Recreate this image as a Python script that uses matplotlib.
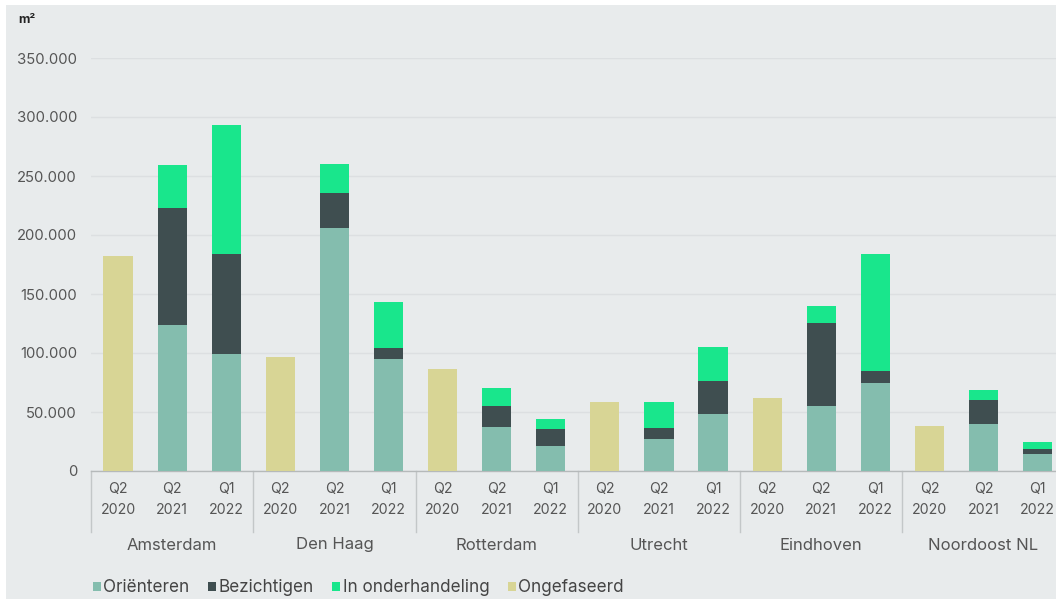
import matplotlib
matplotlib.use("Agg")
import matplotlib.pyplot as plt
import matplotlib.transforms as mtransforms
from matplotlib.patches import Rectangle
from matplotlib.ticker import FuncFormatter
import numpy as np

plt.rcParams["font.family"] = ["Inter", "DejaVu Sans"]

regions = ["Amsterdam", "Den Haag", "Rotterdam", "Utrecht", "Eindhoven", "Noordoost NL"]
periods = ["Q2\n2020", "Q2\n2021", "Q1\n2022"]

# m² per region x period (Q2 2020, Q2 2021, Q1 2022)
orienteren = [0, 124000, 99000, 0, 206000, 95000, 0, 37000, 21500,
              0, 27000, 48000, 0, 55500, 75000, 0, 39500, 14500]
bezichtigen = [0, 98500, 84500, 0, 29500, 9500, 0, 18500, 14000,
               0, 9500, 28000, 0, 70000, 9500, 0, 20500, 4000]
onderhandeling = [0, 37000, 109500, 0, 24500, 39000, 0, 14500, 8500,
                  0, 22000, 29500, 0, 14500, 99500, 0, 9000, 5800]
ongefaseerd = [182000, 0, 0, 96500, 0, 0, 86500, 0, 0,
               58500, 0, 0, 62000, 0, 0, 38500, 0, 0]

series = [("Oriënteren", orienteren, "#84bdae"),
          ("Bezichtigen", bezichtigen, "#3f4e50"),
          ("In onderhandeling", onderhandeling, "#19e68c"),
          ("Ongefaseerd", ongefaseerd, "#d8d595")]

BG = "#e8ebec"
W, H = 1056, 599
fig = plt.figure(figsize=(W / 100, H / 100), dpi=100, facecolor="white")
fig.patches.append(Rectangle((6 / W, 0), 1, 1 - 5 / H, transform=fig.transFigure,
                             facecolor=BG, edgecolor="none", zorder=-1))

# axes runs a little past the right edge of the figure
left, right_px = 91, 1064.6
ax = fig.add_axes([left / W, 128 / H, (right_px - left) / W, 413 / H])
ax.set_facecolor(BG)

x = np.arange(len(orienteren))
bottom = np.zeros(len(x))
for name, vals, col in series:
    ax.bar(x, vals, width=0.54, bottom=bottom, color=col, label=name, zorder=3)
    bottom += np.array(vals)

ax.set_xlim(-0.5, len(x) - 0.5)
ax.set_ylim(0, 350000)
ax.set_yticks(np.arange(0, 350001, 50000))
ax.yaxis.set_major_formatter(FuncFormatter(lambda v, p: f"{int(v):,}".replace(",", ".")))
ax.grid(axis="y", color="#dcdfe1", linewidth=1, zorder=0)
ax.tick_params(axis="y", length=0, pad=10, labelsize=10.7, labelcolor="#555555")

ax.set_xticks(x, periods * len(regions))
ax.tick_params(axis="x", length=0, pad=8, labelsize=10.2, labelcolor="#555555")
for lbl in ax.get_xticklabels():
    lbl.set_linespacing(1.6)

for s in ["top", "right", "left"]:
    ax.spines[s].set_visible(False)
ax.spines["bottom"].set_color("#b5b9ba")
ax.spines["bottom"].set_linewidth(1)

# group separators and region names under the period labels
trans = mtransforms.blended_transform_factory(ax.transData, ax.transAxes)
for i, reg in enumerate(regions):
    ax.plot([3 * i - 0.5] * 2, [0, -61 / 413], transform=trans, color="#c3c7c8",
            linewidth=1, clip_on=False)
    ax.text(3 * i + 1, -74 / 413, reg, transform=trans, ha="center", va="center",
            fontsize=12, color="#555555")

fig.text(18 / W, 1 - 20 / H, "m²", fontsize=9, fontweight="bold", color="#222222",
         va="center", ha="left")

leg = fig.legend(loc="center left", bbox_to_anchor=(86 / W, 1 - 588 / H), ncol=4,
                 frameon=False, fontsize=12.3, handlelength=0.45, handleheight=0.45,
                 handletextpad=0.15, columnspacing=1.1, borderaxespad=0)
for t in leg.get_texts():
    t.set_color("#444444")

fig.savefig("out.png", dpi=100, facecolor="white")
